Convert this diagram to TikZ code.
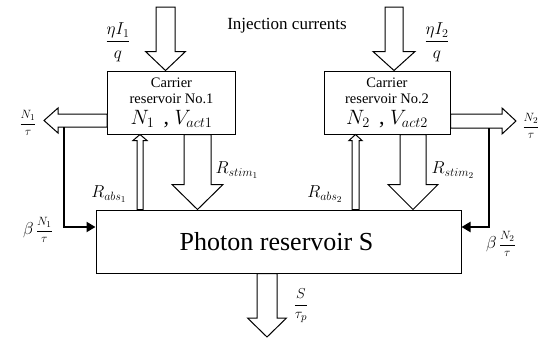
\documentclass[tikz,border=0pt]{standalone}
\usepackage{amssymb,amsmath}
\usepackage{fontspec}
\setmainfont{Liberation Serif}
\usepackage{tikz}
\usetikzlibrary{arrows.meta,calc,positioning}
\tikzset{
    reservoir/.style={
           rectangle,
           draw=black,
           line width=1pt,
           inner sep=2pt,
           align=center,
           },
    hollow/.style={
           draw=black,
           fill=white,
           line width=1pt,
           line join=miter,
           },
    feed/.style={
           line width=2.2pt,
           -{Triangle[length=9pt,width=10pt]},
           },
}
\newcommand{\fatarrow}[5]{%
  \coordinate (fa-s) at (#1);
  \coordinate (fa-t) at (#2);
  \coordinate (fa-b) at ($(fa-t)!#5!(fa-s)$);
  \draw[hollow] ($(fa-s)!#3!90:(fa-t)$) -- ($(fa-b)!#3!90:(fa-t)$)
    -- ($(fa-b)!#4!90:(fa-t)$) -- (fa-t) -- ($(fa-b)!#4!-90:(fa-t)$)
    -- ($(fa-b)!#3!-90:(fa-t)$) -- ($(fa-s)!#3!-90:(fa-t)$) -- cycle;}

\begin{document}
\begin{tikzpicture}[x=1pt,y=-1pt]
 \useasboundingbox (0,0) rectangle (544,341);

 \node[reservoir, minimum width=128pt, minimum height=63pt,
 font=\fontsize{14.5}{16}\selectfont] (CR1) at (171.5,102.5)
 {Carrier\\reservoir No.1\\[5pt]
  {\fontsize{22}{22}\selectfont $N_1$\ \,,\ $V_{act1}$}};

 \node[reservoir, minimum width=126pt, minimum height=63pt,
 font=\fontsize{14.5}{16}\selectfont] (CR2) at (387,102.5)
 {Carrier\\reservoir No.2\\[5pt]
  {\fontsize{22}{22}\selectfont $N_2$\ \,,\ $V_{act2}$}};

 \node[reservoir, minimum width=365pt, minimum height=63pt,
 font=\fontsize{26}{28}\selectfont] (PHOTON) at (278.5,241.5)
 {Photon reservoir S\hspace*{4pt}};

 \coordinate (INJ1) at (165.5,7);
 \coordinate (INJ2) at (394,7);
 \coordinate (LOSS1) at (44,120.5);
 \coordinate (LOSS2) at (516,121);
 \coordinate (ABS1) at (140,0);
 \coordinate (ABS2) at (355.5,0);
 \coordinate (STIM1) at (197.5,0);
 \coordinate (STIM2) at (413,0);
 \coordinate (OUT) at (267,337);
 \coordinate (FB1) at (64,127);
 \coordinate (FB2) at (489,128);

 \fatarrow{INJ1}{INJ1 |- CR1.north}{9.5pt}{20pt}{19pt}
 \fatarrow{INJ2}{INJ2 |- CR2.north}{9pt}{21pt}{19pt}
 \fatarrow{LOSS1 -| CR1.west}{LOSS1}{6.5pt}{12.5pt}{14pt}
 \fatarrow{LOSS2 -| CR2.east}{LOSS2}{7pt}{13pt}{14pt}
 \fatarrow{ABS1 |- PHOTON.north}{ABS1 |- CR1.south}{3pt}{7pt}{6pt}
 \fatarrow{ABS2 |- PHOTON.north}{ABS2 |- CR2.south}{3.5pt}{6.5pt}{6pt}
 \fatarrow{STIM1 |- CR1.south}{STIM1 |- PHOTON.north}{13.5pt}{25.5pt}{25pt}
 \fatarrow{STIM2 |- CR2.south}{STIM2 |- PHOTON.north}{13pt}{25pt}{25pt}
 \fatarrow{OUT |- PHOTON.south}{OUT}{10pt}{19.5pt}{19pt}

 \draw[feed] (FB1) |- ([yshift=14.5pt]PHOTON.west);
 \draw[feed] (FB2) |- ([yshift=14.5pt]PHOTON.east);

 \node[font=\fontsize{17}{19}\selectfont] (INJTXT) at (287,26) {Injection currents};
 \node[font=\fontsize{17}{19}\selectfont] (ETA1) at (118,42) {$\dfrac{\eta I_1}{q}$};
 \node[font=\fontsize{17}{19}\selectfont] (ETA2) at (437,42) {$\dfrac{\eta I_2}{q}$};
 \node[font=\fontsize{13}{15}\selectfont] (N1TAU) at (28,123) {$\dfrac{N_1}{\tau}$};
 \node[font=\fontsize{13}{15}\selectfont] (N2TAU) at (531,126) {$\dfrac{N_2}{\tau}$};
 \node[font=\fontsize{13}{15}\selectfont] (BETA1) at (38,230)
   {{\fontsize{16}{16}\selectfont$\beta$}\,$\dfrac{N_1}{\tau}$};
 \node[font=\fontsize{13}{15}\selectfont] (BETA2) at (501,244)
   {{\fontsize{16}{16}\selectfont$\beta$}\,$\dfrac{N_2}{\tau}$};
 \node[font=\fontsize{18}{20}\selectfont] (RABS1) at (109,194) {$R_{abs_1}$};
 \node[font=\fontsize{18}{20}\selectfont] (RABS2) at (325,194) {$R_{abs_2}$};
 \node[font=\fontsize{18}{20}\selectfont] (RSTIM1) at (237,170) {$R_{stim_1}$};
 \node[font=\fontsize{18}{20}\selectfont] (RSTIM2) at (453,170) {$R_{stim_2}$};
 \node[font=\fontsize{15}{17}\selectfont] (STAU) at (301,306) {$\dfrac{S}{\tau_p}$};
\end{tikzpicture}
\end{document}
